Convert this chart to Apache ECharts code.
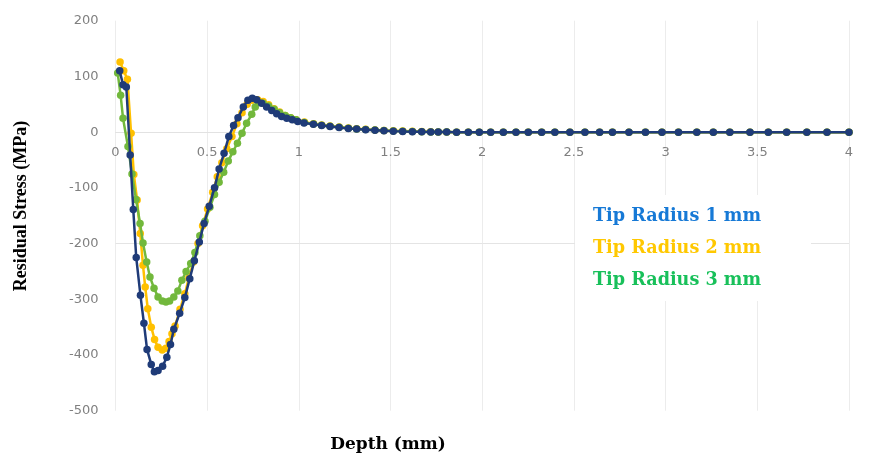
<!DOCTYPE html>
<html>
<head>
<meta charset="utf-8">
<script src="https://cdn.jsdelivr.net/npm/echarts@6/dist/echarts.min.js"></script>
<style>
html,body{margin:0;padding:0;background:#fff;}
#chart{width:879px;height:455px;}
</style>
</head>
<body>
<div id="chart"></div>
<script>
// ---- Data ----
var seriesNames = ['Tip Radius 1 mm', 'Tip Radius 2 mm', 'Tip Radius 3 mm'];
var xTicks = [0, 0.5, 1, 1.5, 2, 2.5, 3, 3.5, 4];
var yTicks = [-500, -400, -300, -200, -100, 0, 100, 200];

var depth1 = [0.023,0.041,0.059,0.080,0.097,0.113,0.136,0.155,0.172,0.195,
  0.212,0.232,0.257,0.280,0.300,0.318,0.350,0.378,0.405,0.430,
  0.457,0.483,0.511,0.540,0.565,0.592,0.618,0.644,0.668,0.697,
  0.722,0.746,0.770,0.797,0.824,0.852,0.879,0.906,0.934,0.964,
  0.994,1.028,1.079,1.124,1.170,1.219,1.270,1.315,1.364,1.415,
  1.464,1.515,1.566,1.619,1.670,1.719,1.760,1.806,1.860,1.924,
  1.984,2.046,2.115,2.184,2.251,2.324,2.396,2.478,2.560,2.640,
  2.710,2.800,2.890,2.980,3.070,3.170,3.260,3.350,3.460,3.560,
  3.660,3.770,3.880,4.000];
var stress1 = [110,85,81,-41,-139,-225,-293,-343,-390,-417,
  -430,-428,-420,-404,-381,-354,-325,-297,-263,-231,
  -197,-164,-133,-100,-66,-38,-8,12,26,45,
  57,61,58,52,45,39,33,28,25,22,
  19,16.5,14,12,10,8.4,6.6,5.4,4.1,3.4,
  2.5,1.8,1.2,0.8,0.5,0.3,0.2,0.1,0,0,
  0,0,0,0,0,0,0,0,0,0,
  0,0,0,0,0,0,0,0,0,0,
  0,0,0,0];

var depth2 = [0.025,0.045,0.065,0.085,0.100,0.118,0.135,0.150,0.162,0.176,
  0.195,0.213,0.232,0.255,0.275,0.292,0.308,0.325,0.352,0.378,
  0.400,0.425,0.450,0.475,0.502,0.530,0.555,0.580,0.607,0.635,
  0.662,0.690,0.718,0.745,0.775,0.805,0.835,0.865,0.895,0.925,
  0.955,0.985,1.030,1.080,1.124,1.170,1.220,1.270,1.315,1.364,
  1.415,1.464,1.515,1.566,1.619,1.670,1.719,1.760,1.806,1.860,
  1.924,1.984,2.046,2.115,2.184,2.251,2.324,2.396,2.478,2.560,
  2.640,2.710,2.800,2.890,2.980,3.070,3.170,3.260,3.350,3.460,
  3.560,3.660,3.770,3.880,4.000];
var stress2 = [126,110,95,-2,-76,-122,-182,-239,-278,-317,
  -350,-372,-386,-391,-388,-376,-362,-348,-318,-290,
  -262,-233,-200,-168,-138,-108,-80,-55,-30,-8,
  15,35,50,57,58,55,49,42,36,30,
  26,22,18,15,13,11,9,7.5,6,5,
  4,3,2.5,2,1.5,1,0.5,0.3,0.2,0,
  0,0,0,0,0,0,0,0,0,0,
  0,0,0,0,0,0,0,0,0,0,
  0,0,0,0,0];

var depth3 = [0.012,0.028,0.041,0.068,0.090,0.112,0.134,0.150,0.170,0.188,
  0.210,0.232,0.255,0.275,0.295,0.318,0.340,0.362,0.385,0.410,
  0.433,0.460,0.488,0.515,0.540,0.565,0.590,0.615,0.640,0.665,
  0.690,0.715,0.743,0.762,0.780,0.805,0.835,0.865,0.895,0.925,
  0.955,0.985,1.030,1.080,1.124,1.170,1.220,1.270,1.315,1.364,
  1.415,1.464,1.515,1.566,1.619,1.670,1.719,1.760,1.806,1.860,
  1.924,1.984,2.046,2.115,2.184,2.251,2.324,2.396,2.478,2.560,
  2.640,2.710,2.800,2.890,2.980,3.070,3.170,3.260,3.350,3.460,
  3.560,3.660,3.770,3.880,4.000];
var stress3 = [106,66,25,-26,-75,-121,-164,-199,-233,-260,
  -280,-296,-303,-305,-303,-296,-285,-266,-250,-236,
  -216,-186,-160,-135,-112,-90,-72,-52,-35,-20,
  -2,16,32,45,53,52,47,41,35,30,
  26,22,17.5,14.5,12.5,10.5,8.7,7,5.8,4.6,
  3.7,2.8,2.2,1.6,1.2,0.8,0.4,0.3,0.2,0,
  0,0,0,0,0,0,0,0,0,0,
  0,0,0,0,0,0,0,0,0,0,
  0,0,0,0,0];

// ---- Styles ----
var lineColors = ['#1f3b78', '#ffc000', '#72b83c'];
var legendColors = ['#1679d6', '#ffc800', '#18c05a'];

function pairs(xs, ys) { return xs.map(function (x, i) { return [x, ys[i]]; }); }

var chart = echarts.init(document.getElementById('chart'), null, {renderer: 'canvas'});

function mkSeries(idx, xs, ys, z) {
  return {
    name: seriesNames[idx],
    type: 'line',
    xAxisIndex: 0, yAxisIndex: 0,
    data: pairs(xs, ys),
    symbol: 'circle',
    symbolSize: 7.5,
    showSymbol: true,
    z: z,
    lineStyle: {width: 2.5, color: lineColors[idx]},
    itemStyle: {color: lineColors[idx], borderWidth: 0},
    emphasis: {disabled: true}
  };
}

var s2 = mkSeries(1, depth2, stress2, 2);
s2.markLine = {
  silent: true, symbol: 'none', label: {show: false},
  lineStyle: {color: '#e4e4e4', width: 1, type: 'solid'},
  data: [{yAxis: yTicks[3]}],
  z: 0
};

var xMin = xTicks[0], xMax = xTicks[xTicks.length - 1];
var yMin = yTicks[0], yMax = yTicks[yTicks.length - 1];

var option = {
  animation: false,
  backgroundColor: '#ffffff',
  grid: [
    {left: 115.5, right: 30, top: 20.7, bottom: 44.3, containLabel: false},
    // upper grid whose bottom edge sits on the zero line: carries the x tick labels
    {left: 115.5, right: 30, top: 20.7, height: 111.4, containLabel: false}
  ],
  xAxis: [
    {
      gridIndex: 0, type: 'value', min: xMin, max: xMax, interval: 0.5,
      axisLine: {show: true, onZero: true, lineStyle: {color: '#e2e2e2', width: 1}},
      axisTick: {show: false},
      axisLabel: {show: false},
      splitLine: {show: true, lineStyle: {color: '#ececec', width: 1}}
    },
    {
      gridIndex: 1, type: 'value', min: xMin, max: xMax, interval: 0.5,
      axisLine: {show: false, onZero: false},
      axisTick: {show: false},
      axisLabel: {margin: 14, color: '#808080', fontFamily: 'DejaVu Sans', fontSize: 13},
      splitLine: {show: false}
    }
  ],
  yAxis: [
    {
      gridIndex: 0, type: 'value', min: yMin, max: yMax, interval: 100,
      axisLine: {show: false},
      axisTick: {show: false},
      axisLabel: {margin: 17, color: '#808080', fontFamily: 'DejaVu Sans', fontSize: 13},
      splitLine: {show: false}
    },
    {
      gridIndex: 1, type: 'value', min: 0, max: yMax, show: false,
      splitLine: {show: false}
    }
  ],
  legend: {
    orient: 'vertical',
    left: 575, top: 195,
    backgroundColor: '#ffffff',
    padding: [12, 50, 12, 13],
    itemGap: 14,
    itemWidth: 0, itemHeight: 0,
    icon: 'rect',
    selectedMode: false,
    textStyle: {fontFamily: 'DejaVu Serif', fontWeight: 'bold', fontSize: 17.6},
    data: seriesNames.map(function (n, i) {
      return {name: n, textStyle: {color: legendColors[i]}};
    })
  },
  graphic: [
    {type: 'text', x: 21, y: 206, rotation: Math.PI / 2,
      style: {text: 'Residual Stress (MPa)', fill: '#000', font: 'bold 18px "Liberation Serif"',
        textAlign: 'center', textVerticalAlign: 'middle'}},
    {type: 'text', x: 388, y: 445,
      style: {text: 'Depth (mm)', fill: '#000', font: 'bold 17px "DejaVu Serif"',
        textAlign: 'center', textVerticalAlign: 'middle'}}
  ],
  series: [
    mkSeries(0, depth1, stress1, 4),
    s2,
    mkSeries(2, depth3, stress3, 3)
  ]
};
chart.setOption(option);
</script>
</body>
</html>
